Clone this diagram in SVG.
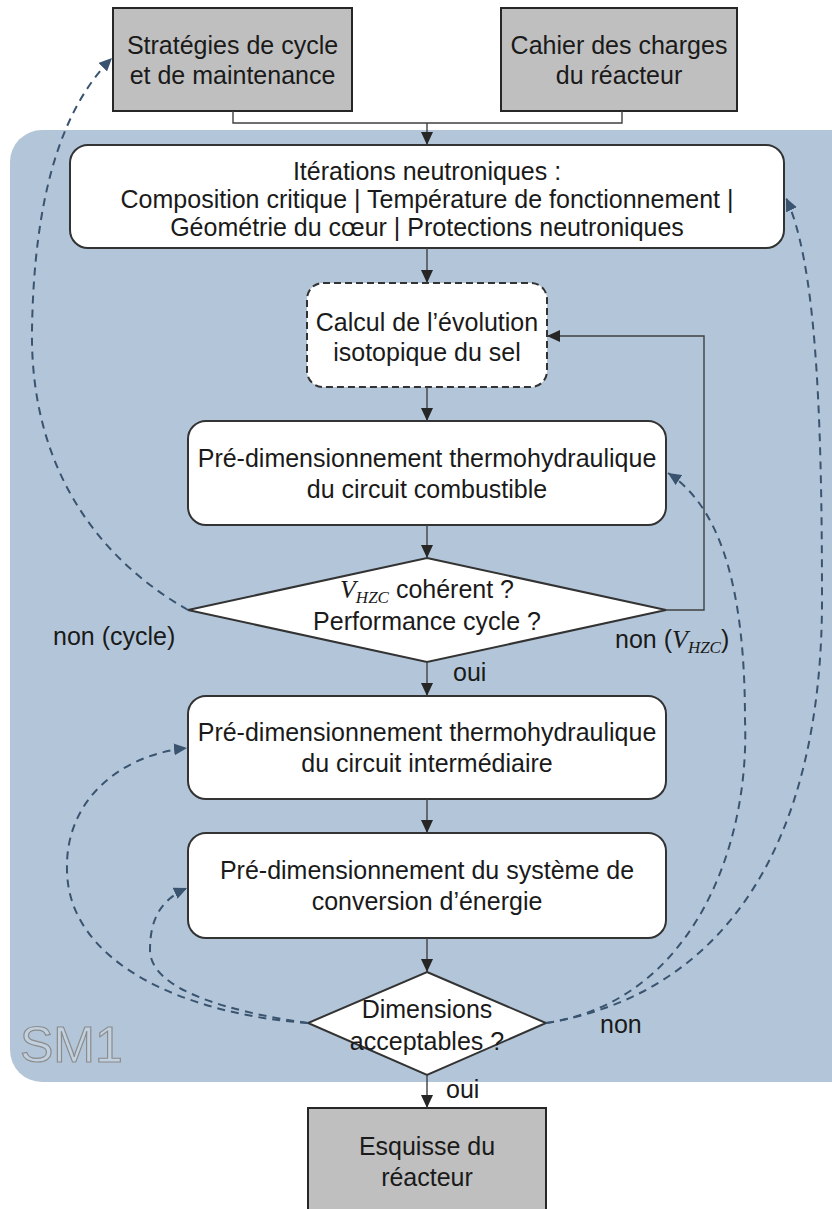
<svg xmlns="http://www.w3.org/2000/svg" width="832" height="1209" viewBox="0 0 832 1209">
<style>
text{font-family:"Liberation Sans",Arial,sans-serif;font-size:25px;fill:#1a1a1a}
.c{text-anchor:middle}
.m{font-family:"Liberation Serif","Times New Roman",serif;font-style:italic}
.box{fill:#ffffff;stroke:#333333;stroke-width:2}
.grey{fill:#bfbfbf;stroke:#262626;stroke-width:2}
.sol{fill:none;stroke:#404040;stroke-width:1.4}
.dash{fill:none;stroke:#3a5470;stroke-width:2;stroke-dasharray:8 6}
</style>
<defs>
<marker id="a" markerUnits="userSpaceOnUse" markerWidth="14" markerHeight="12" refX="13" refY="6" orient="auto"><path d="M0,0 L13,6 L0,12 Z" fill="#262626"/></marker>
<marker id="b" markerUnits="userSpaceOnUse" markerWidth="14" markerHeight="12" refX="13" refY="6" orient="auto"><path d="M0,0 L13,6 L0,12 Z" fill="#3a5470"/></marker>
</defs>
<rect x="0" y="0" width="832" height="1209" fill="#ffffff"/>
<g id="sm1">
<rect x="10" y="130" width="852" height="952" rx="32" fill="#b3c6d9"/>
<text x="20" y="1062" style="font-size:50px;fill:#c2d1e0;stroke:#8c8c8c;stroke-width:1.2">SM1</text>
</g>
<g id="strategies">
<rect class="grey" x="113" y="8" width="239" height="103"/>
<text class="c" x="232.5" y="54">Stratégies de cycle</text>
<text class="c" x="232.5" y="84">et de maintenance</text>
</g>
<g id="cahier">
<rect class="grey" x="501" y="8" width="236" height="103"/>
<text class="c" x="619" y="54">Cahier des charges</text>
<text class="c" x="619" y="84">du réacteur</text>
</g>
<g id="iterations">
<rect class="box" x="70" y="145" width="714" height="103" rx="18"/>
<text class="c" x="427" y="180">Itérations neutroniques :</text>
<text class="c" x="427" y="208">Composition critique | Température de fonctionnement |</text>
<text class="c" x="427" y="236">Géométrie du cœur | Protections neutroniques</text>
</g>
<g id="calcul">
<rect class="box" x="307" y="283" width="240" height="104" rx="16" style="stroke-dasharray:7 4"/>
<text class="c" x="427" y="331">Calcul de l’évolution</text>
<text class="c" x="427" y="361">isotopique du sel</text>
</g>
<g id="combustible">
<rect class="box" x="188" y="421" width="478" height="104" rx="18"/>
<text class="c" x="427" y="467">Pré-dimensionnement thermohydraulique</text>
<text class="c" x="427" y="498">du circuit combustible</text>
</g>
<g id="decision1">
<polygon class="box" points="427,558 666,610 427,662 188,610"/>
<text class="c" x="427" y="598"><tspan class="m" style="font-size:26px">V</tspan><tspan class="m" style="font-size:17px" dy="5">HZC</tspan><tspan dy="-5"> cohérent ?</tspan></text>
<text class="c" x="427" y="630">Performance cycle ?</text>
</g>
<g id="intermediaire">
<rect class="box" x="188" y="696" width="478" height="103" rx="18"/>
<text class="c" x="427" y="741">Pré-dimensionnement thermohydraulique</text>
<text class="c" x="427" y="772">du circuit intermédiaire</text>
</g>
<g id="conversion">
<rect class="box" x="188" y="833" width="478" height="105" rx="18"/>
<text class="c" x="427" y="879">Pré-dimensionnement du système de</text>
<text class="c" x="427" y="910">conversion d’énergie</text>
</g>
<g id="decision2">
<polygon class="box" points="427,972 546,1023 427,1075 308,1023"/>
<text class="c" x="427" y="1018">Dimensions</text>
<text class="c" x="427" y="1050">acceptables ?</text>
</g>
<g id="esquisse">
<rect class="grey" x="308" y="1108" width="238" height="112"/>
<text class="c" x="427" y="1155">Esquisse du</text>
<text class="c" x="427" y="1186">réacteur</text>
</g>
<g id="connectors">
<path class="sol" d="M233,111 V123 H622 V111"/>
<path class="sol" d="M427,123 V145" marker-end="url(#a)"/>
<path class="sol" d="M427,248 V283" marker-end="url(#a)"/>
<path class="sol" d="M427,387 V421" marker-end="url(#a)"/>
<path class="sol" d="M427,525 V558" marker-end="url(#a)"/>
<path class="sol" d="M427,662 V696" marker-end="url(#a)"/>
<path class="sol" d="M427,799 V833" marker-end="url(#a)"/>
<path class="sol" d="M427,938 V972" marker-end="url(#a)"/>
<path class="sol" d="M427,1075 V1108" marker-end="url(#a)"/>
<path class="sol" d="M666,610 H704 V336 H547" marker-end="url(#a)"/>
<path class="dash" d="M188,610 C100,560 30,470 32,330 C34,200 60,110 112,58" marker-end="url(#b)"/>
<path class="dash" d="M546,1023 C690,1002 750,850 745,720 C745,600 725,510 668,473" marker-end="url(#b)"/>
<path class="dash" d="M546,1023 C720,995 822,850 822,600 C822,400 815,260 786,198" marker-end="url(#b)"/>
<path class="dash" d="M308,1023 C190,1015 68,965 67,870 C65,800 120,755 187,748" marker-end="url(#b)"/>
<path class="dash" d="M308,1023 C230,1012 150,990 150,950 C150,920 160,900 187,888" marker-end="url(#b)"/>
<text x="53" y="645">non (cycle)</text>
<text x="615" y="648">non (<tspan class="m" style="font-size:26px">V</tspan><tspan class="m" style="font-size:17px" dy="5">HZC</tspan><tspan dy="-5">)</tspan></text>
<text x="453" y="681">oui</text>
<text x="600" y="1033">non</text>
<text x="446" y="1098">oui</text>
</g>
</svg>
